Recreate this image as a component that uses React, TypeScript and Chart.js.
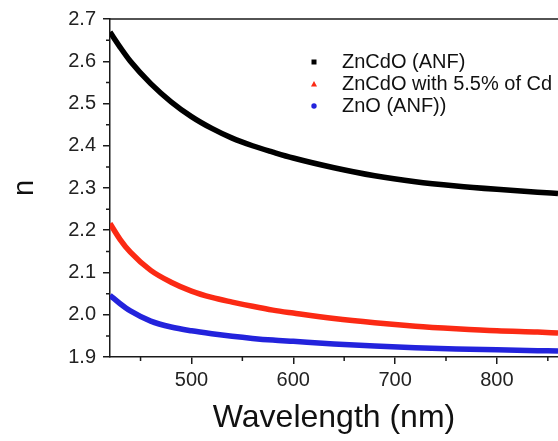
import React, { useEffect, useRef } from "react";
import { Chart, registerables } from "chart.js";

Chart.register(...registerables);

const wavelengths = [420, 430, 440, 460, 480, 500, 520, 540, 560, 580, 600, 640, 680, 720, 760, 800, 840, 860];
const znCdOAnf = [2.669, 2.633, 2.6, 2.547, 2.504, 2.469, 2.441, 2.418, 2.4, 2.385, 2.371, 2.348, 2.329, 2.315, 2.305, 2.297, 2.29, 2.287];
const znCdO55 = [2.216, 2.178, 2.148, 2.105, 2.077, 2.056, 2.041, 2.03, 2.02, 2.011, 2.004, 1.991, 1.981, 1.973, 1.967, 1.962, 1.959, 1.957];
const znOAnf = [2.046, 2.026, 2.009, 1.985, 1.971, 1.962, 1.955, 1.949, 1.944, 1.94, 1.937, 1.931, 1.926, 1.922, 1.919, 1.917, 1.915, 1.914];

const seriesLabels = ["ZnCdO (ANF)", "ZnCdO with 5.5% of Cd", "ZnO (ANF))"];
const seriesColors = ["#000000", "#fb2a14", "#2323dc"];
const seriesMarkers = ["rect", "triangle", "circle"];

const xTickValues = [500, 600, 700, 800];
const xMinorTicks = [450, 550, 650, 750, 850];
const yTickValues = [1.9, 2.0, 2.1, 2.2, 2.3, 2.4, 2.5, 2.6, 2.7];
const yMinorTicks = [1.95, 2.05, 2.15, 2.25, 2.35, 2.45, 2.55, 2.65];

const FONT = "'Liberation Sans', Arial, sans-serif";
const AXIS_COLOR = "#1a1a1a";

const extrasPlugin = {
  id: "extras",
  afterDraw(chart: any) {
    const ctx = chart.ctx;
    const { left, right, top, bottom } = chart.chartArea;
    const xs = chart.scales.x;
    const ys = chart.scales.y;
    ctx.save();
    ctx.strokeStyle = AXIS_COLOR;
    ctx.lineWidth = 1.5;
    // top frame line
    ctx.beginPath();
    ctx.moveTo(left, top);
    ctx.lineTo(right, top);
    ctx.stroke();
    // minor ticks
    ctx.beginPath();
    xMinorTicks.forEach((v) => {
      const px = xs.getPixelForValue(v);
      ctx.moveTo(px, bottom);
      ctx.lineTo(px, bottom + 4);
    });
    yMinorTicks.forEach((v) => {
      const py = ys.getPixelForValue(v);
      ctx.moveTo(left, py);
      ctx.lineTo(left - 4, py);
    });
    ctx.stroke();
    // legend
    const lx = 314;
    const tx = 342;
    const ly0 = 62;
    const dy = 22;
    ctx.font = `20px ${FONT}`;
    ctx.textBaseline = "middle";
    ctx.textAlign = "left";
    chart.data.datasets.forEach((ds: any, i: number) => {
      const y = ly0 + i * dy;
      ctx.fillStyle = ds.borderColor;
      const m = seriesMarkers[i];
      ctx.beginPath();
      if (m === "rect") {
        ctx.rect(lx - 2.5, y - 2.5, 5, 5);
      } else if (m === "triangle") {
        ctx.moveTo(lx, y - 3);
        ctx.lineTo(lx + 3, y + 2.5);
        ctx.lineTo(lx - 3, y + 2.5);
        ctx.closePath();
      } else {
        ctx.arc(lx, y, 2.7, 0, Math.PI * 2);
      }
      ctx.fill();
      ctx.fillStyle = "#111";
      ctx.fillText(ds.label, tx, y);
    });
    ctx.restore();
  },
};

export default function App() {
  const ref = useRef<HTMLCanvasElement | null>(null);
  useEffect(() => {
    if (!ref.current) return;
    const seriesData = [znCdOAnf, znCdO55, znOAnf];
    const chart = new Chart(ref.current, {
      type: "line",
      data: {
        datasets: seriesData.map((vals, i) => ({
          label: seriesLabels[i],
          data: wavelengths.map((w, j) => ({ x: w, y: vals[j] })),
          borderColor: seriesColors[i],
          backgroundColor: seriesColors[i],
          borderWidth: 5.5,
          pointRadius: 0,
          cubicInterpolationMode: "monotone",
          fill: false,
        })),
      },
      options: {
        animation: false,
        responsive: false,
        devicePixelRatio: 1,
        layout: { padding: { top: 18, right: 0, left: 0, bottom: 0 } },
        plugins: { legend: { display: false }, tooltip: { enabled: false } },
        scales: {
          x: {
            type: "linear",
            min: 420,
            max: 860,
            afterBuildTicks: (s: any) => {
              s.ticks = xTickValues.map((v) => ({ value: v }));
            },
            afterFit: (s: any) => {
              s.height = 84;
            },
            grid: { display: true, drawOnChartArea: false, drawTicks: true, tickLength: 7, color: AXIS_COLOR, lineWidth: 1.5 },
            border: { display: true, color: AXIS_COLOR, width: 1.5 },
            ticks: { color: "#222", font: { family: FONT, size: 20 }, padding: 4, maxRotation: 0 },
            title: { display: true, text: "Wavelength (nm)", color: "#111", font: { family: FONT, size: 32 }, padding: { top: 0, bottom: 4 } },
          },
          y: {
            type: "linear",
            min: 1.9,
            max: 2.7,
            afterBuildTicks: (s: any) => {
              s.ticks = yTickValues.map((v) => ({ value: v }));
            },
            afterFit: (s: any) => {
              s.width = 110;
            },
            grid: { display: true, drawOnChartArea: false, drawTicks: true, tickLength: 7, color: AXIS_COLOR, lineWidth: 1.5 },
            border: { display: true, color: AXIS_COLOR, width: 1.5 },
            ticks: { color: "#222", font: { family: FONT, size: 20 }, padding: 7, callback: (v: any) => Number(v).toFixed(1) },
            title: { display: true, text: "n", color: "#111", font: { family: FONT, size: 29 }, padding: { top: 8, bottom: 0 } },
          },
        },
      },
      plugins: [extrasPlugin],
    } as any);
    return () => chart.destroy();
  }, []);
  return (
    <div style={{ position: "absolute", left: 0, top: 0, width: 558, height: 441, background: "#fff" }}>
      <canvas ref={ref} width={558} height={441} style={{ display: "block" }} />
    </div>
  );
}
